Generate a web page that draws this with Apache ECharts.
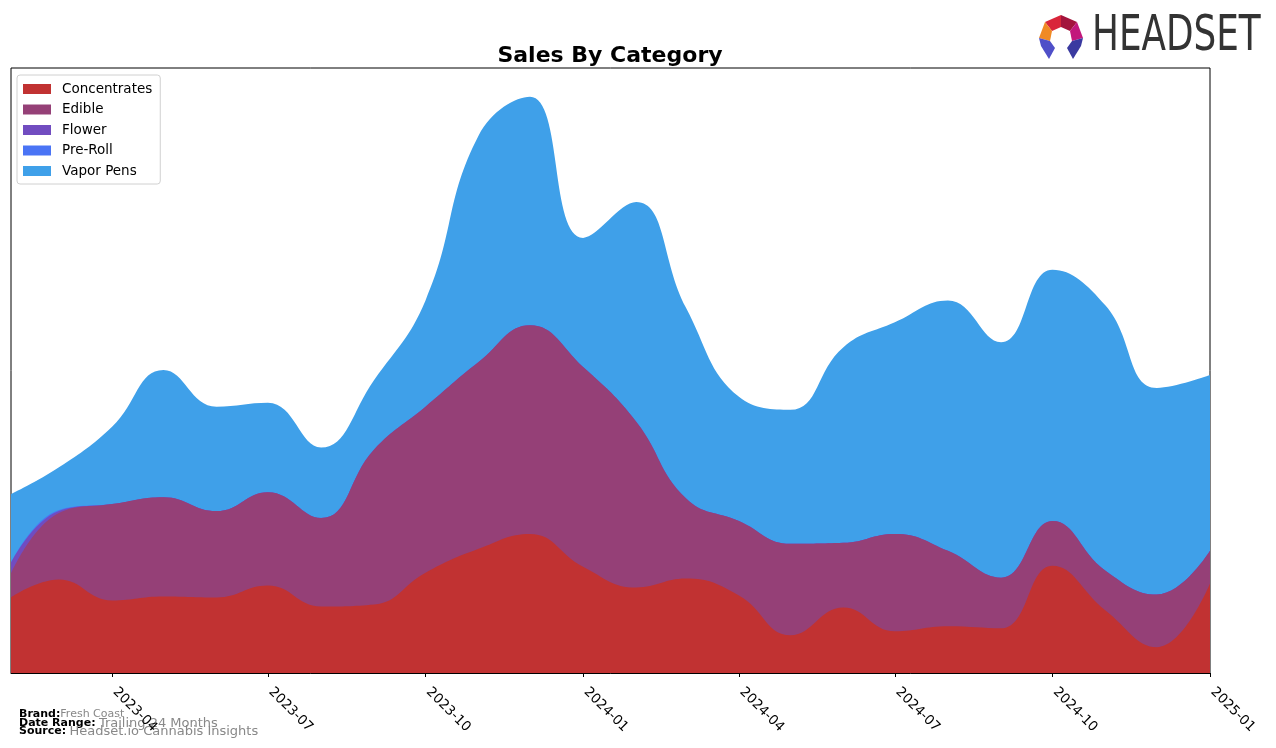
<!DOCTYPE html>
<html>
<head>
<meta charset="utf-8">
<script src="https://cdn.jsdelivr.net/npm/echarts@6/dist/echarts.min.js"></script>
<style>
  html, body { margin: 0; padding: 0; background: #fff; }
  #chart { width: 1276px; height: 748px; }
</style>
</head>
<body>
<div id="chart"></div>
<script>
// months shown on the x axis (trailing 24 months)
const months = [
  '2023-02', '2023-03', '2023-04', '2023-05', '2023-06', '2023-07',
  '2023-08', '2023-09', '2023-10', '2023-11', '2023-12', '2024-01',
  '2024-02', '2024-03', '2024-04', '2024-05', '2024-06', '2024-07',
  '2024-08', '2024-09', '2024-10', '2024-11', '2024-12', '2025-01'
]
// sales per category (relative units)
const concentrates = [76, 94, 73, 77, 76, 88, 67, 69, 101, 125, 140, 107, 86, 95, 78, 38, 66, 42, 47, 45, 108, 63, 26, 90]
const edible = [24, 67, 97, 100, 87, 94, 89, 156, 167, 188, 210, 201, 167, 81, 75, 92, 65, 98, 76, 51, 45, 40, 53, 33]
const flower = [11, 2, 0, 0, 0, 0, 0, 0, 0, 0, 0, 0, 0, 0, 0, 0, 0, 0, 0, 0, 0, 0, 0, 0]
const preRoll = [0, 1, 0, 0, 0, 0, 0, 0, 0, 0, 0, 0, 0, 0, 0, 0, 0, 0, 0, 0, 0, 0, 0, 0]
const vaporPens = [69, 43, 78, 128, 105, 90, 71, 70, 107, 228, 230, 130, 221, 192, 125, 135, 197, 213, 252, 237, 253, 267, 208, 177]
// labelled ticks
const tickLabels = ['2023-04', '2023-07', '2023-10', '2024-01', '2024-04', '2024-07', '2024-10', '2025-01']

// x positions are days since the first month, so spacing follows the calendar
const toDay = (m) => Math.round((Date.UTC(+m.slice(0, 4), +m.slice(5, 7) - 1, 1) - Date.UTC(2023, 1, 1)) / 86400000)

// stack by hand (value x axis), bottom layer first
const layers = [
  { name: 'Concentrates', data: concentrates, color: '#c13232' },
  { name: 'Edible', data: edible, color: '#954077' },
  { name: 'Flower', data: flower, color: '#714cc0' },
  { name: 'Pre-Roll', data: preRoll, color: '#4a74f5' },
  { name: 'Vapor Pens', data: vaporPens, color: '#3fa0e9' }
]
let running = months.map(() => 0)
layers.forEach((l) => {
  running = running.map((v, i) => v + l.data[i])
  l.cum = running.slice()
})
const yMax = Math.max(...running) * 1.05

const chart = echarts.init(document.getElementById('chart'))

const series = layers.map((l, k) => ({
  name: l.name,
  type: 'line',
  smooth: 0.45,
  symbol: 'none',
  z: 10 - k,
  data: months.map((m, i) => [toDay(m), l.cum[i]]),
  itemStyle: { color: l.color },
  lineStyle: { width: 0 },
  areaStyle: { color: l.color, opacity: 1, origin: 'start' }
}))

const tickDays = tickLabels.map(toDay)
const fmtDay = (v) => {
  const i = tickDays.indexOf(Math.round(v))
  return i === -1 ? '' : tickLabels[i]
}

const option = {
  animation: false,
  textStyle: { fontFamily: 'DejaVu Sans' },
  title: {
    text: 'Sales By Category',
    left: 605,
    top: 40,
    textAlign: 'center',
    textStyle: { fontSize: 22, fontWeight: 'bold', color: '#000', fontFamily: 'DejaVu Sans' }
  },
  legend: {
    orient: 'vertical',
    left: 17,
    top: 75,
    padding: [7, 8, 6, 6],
    itemWidth: 28,
    itemHeight: 10,
    itemGap: 6.5,
    icon: 'rect',
    borderColor: '#d0d0d0',
    borderWidth: 1,
    borderRadius: 3,
    backgroundColor: '#fff',
    textStyle: { fontSize: 13.5, color: '#000', padding: [0, 0, 0, 6] },
    data: layers.map((l) => l.name)
  },
  grid: {
    left: 11,
    right: 66,
    top: 68,
    bottom: 75,
    show: true,
    borderColor: '#000',
    borderWidth: 1,
    containLabel: false
  },
  xAxis: {
    type: 'value',
    min: 0,
    max: toDay(months[months.length - 1]),
    axisLine: { lineStyle: { color: '#000', width: 1 } },
    axisTick: {
      show: true,
      length: 4,
      lineStyle: { color: '#000' },
      customValues: tickDays
    },
    axisLabel: {
      customValues: tickDays,
      formatter: fmtDay,
      rotate: -45,
      fontSize: 13.5,
      color: '#000',
      margin: 14,
      padding: [0, 0, 0, 4]
    },
    splitLine: { show: false }
  },
  yAxis: {
    type: 'value',
    min: 0,
    max: yMax,
    show: false,
    splitLine: { show: false }
  },
  series: series,
  graphic: [
    // footer
    {
      type: 'text', left: 19, top: 709,
      style: {
        text: '{b|Brand:}{v|Fresh Coast}',
        rich: {
          b: { fontSize: 11, fontWeight: 'bold', fill: '#000', fontFamily: 'DejaVu Sans' },
          v: { fontSize: 11, fill: '#888', fontFamily: 'DejaVu Sans' }
        }
      }
    },
    {
      type: 'text', left: 19, top: 717,
      style: {
        text: '{b|Date Range:} {v|Trailing 24 Months}',
        rich: {
          b: { fontSize: 11, fontWeight: 'bold', fill: '#000', fontFamily: 'DejaVu Sans' },
          v: { fontSize: 13, fill: '#888', fontFamily: 'DejaVu Sans' }
        }
      }
    },
    {
      type: 'text', left: 19, top: 725,
      style: {
        text: '{b|Source:} {v|Headset.io Cannabis Insights}',
        rich: {
          b: { fontSize: 11, fontWeight: 'bold', fill: '#000', fontFamily: 'DejaVu Sans' },
          v: { fontSize: 13, fill: '#888', fontFamily: 'DejaVu Sans' }
        }
      }
    },
    // logo
    { type: 'polygon', shape: { points: [[1061, 15], [1077, 22], [1070, 31], [1061, 27]] }, style: { fill: '#a3143c' } },
    { type: 'polygon', shape: { points: [[1061, 15], [1045, 22], [1052, 31], [1061, 27]] }, style: { fill: '#d9253a' } },
    { type: 'polygon', shape: { points: [[1045, 22], [1039, 38], [1050, 41], [1052, 31]] }, style: { fill: '#f08a24' } },
    { type: 'polygon', shape: { points: [[1077, 22], [1083, 38], [1072, 41], [1070, 31]] }, style: { fill: '#c2187c' } },
    { type: 'polygon', shape: { points: [[1039, 38], [1041, 46], [1049, 59], [1055, 48], [1050, 41]] }, style: { fill: '#4f4fc8' } },
    { type: 'polygon', shape: { points: [[1083, 38], [1081, 46], [1073, 59], [1067, 48], [1072, 41]] }, style: { fill: '#3a3aa0' } },
    {
      type: 'text', x: 1092, y: 13, scaleX: 0.73,
      style: { text: 'HEADSET', fontSize: 49, fill: '#333', fontFamily: 'DejaVu Sans', textVerticalAlign: 'top' }
    }
  ]
}

chart.setOption(option)
</script>
</body>
</html>
